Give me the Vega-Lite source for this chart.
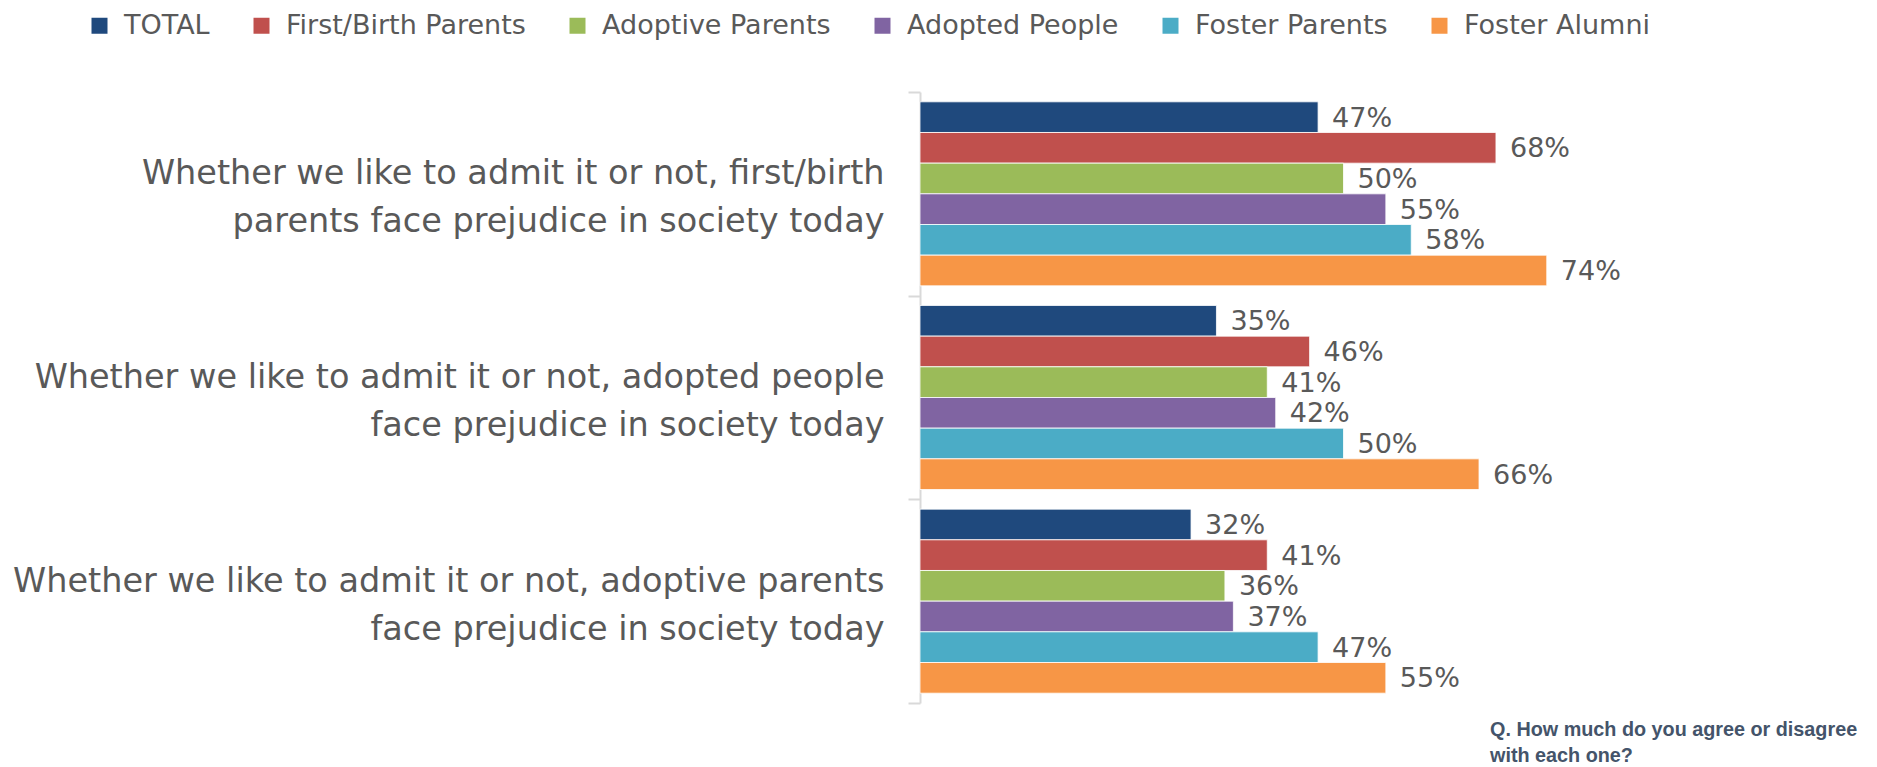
{
  "$schema": "https://vega.github.io/schema/vega-lite/v6.json",
  "width": 847,
  "height": 611,
  "autosize": {"type": "none"},
  "padding": {"left": 920, "top": 92, "right": 110, "bottom": 64},
  "background": "white",
  "config": {"view": {"stroke": null}, "font": "DejaVu Sans"},
  "title": {
    "text": ["Q. How much do you agree or disagree", "with each one?"],
    "orient": "bottom",
    "anchor": "start",
    "frame": "group",
    "dx": 570,
    "offset": 16,
    "font": "Liberation Sans",
    "fontSize": 19.8,
    "fontWeight": "bold",
    "color": "#44546a",
    "lineHeight": 26,
    "baseline": "top"
  },
  "data": {
    "values": [
      {"statement": "Whether we like to admit it or not, first/birth|parents face prejudice in society today", "group": "TOTAL", "value": 0.47},
      {"statement": "Whether we like to admit it or not, first/birth|parents face prejudice in society today", "group": "First/Birth Parents", "value": 0.68},
      {"statement": "Whether we like to admit it or not, first/birth|parents face prejudice in society today", "group": "Adoptive Parents", "value": 0.50},
      {"statement": "Whether we like to admit it or not, first/birth|parents face prejudice in society today", "group": "Adopted People", "value": 0.55},
      {"statement": "Whether we like to admit it or not, first/birth|parents face prejudice in society today", "group": "Foster Parents", "value": 0.58},
      {"statement": "Whether we like to admit it or not, first/birth|parents face prejudice in society today", "group": "Foster Alumni", "value": 0.74},
      {"statement": "Whether we like to admit it or not, adopted people|face prejudice in society today", "group": "TOTAL", "value": 0.35},
      {"statement": "Whether we like to admit it or not, adopted people|face prejudice in society today", "group": "First/Birth Parents", "value": 0.46},
      {"statement": "Whether we like to admit it or not, adopted people|face prejudice in society today", "group": "Adoptive Parents", "value": 0.41},
      {"statement": "Whether we like to admit it or not, adopted people|face prejudice in society today", "group": "Adopted People", "value": 0.42},
      {"statement": "Whether we like to admit it or not, adopted people|face prejudice in society today", "group": "Foster Parents", "value": 0.50},
      {"statement": "Whether we like to admit it or not, adopted people|face prejudice in society today", "group": "Foster Alumni", "value": 0.66},
      {"statement": "Whether we like to admit it or not, adoptive parents|face prejudice in society today", "group": "TOTAL", "value": 0.32},
      {"statement": "Whether we like to admit it or not, adoptive parents|face prejudice in society today", "group": "First/Birth Parents", "value": 0.41},
      {"statement": "Whether we like to admit it or not, adoptive parents|face prejudice in society today", "group": "Adoptive Parents", "value": 0.36},
      {"statement": "Whether we like to admit it or not, adoptive parents|face prejudice in society today", "group": "Adopted People", "value": 0.37},
      {"statement": "Whether we like to admit it or not, adoptive parents|face prejudice in society today", "group": "Foster Parents", "value": 0.47},
      {"statement": "Whether we like to admit it or not, adoptive parents|face prejudice in society today", "group": "Foster Alumni", "value": 0.55}
    ]
  },
  "encoding": {
    "y": {
      "field": "statement",
      "type": "nominal",
      "sort": null,
      "scale": {"paddingInner": 0, "paddingOuter": 0},
      "axis": {
        "title": null,
        "labelExpr": "split(datum.label, '|')",
        "labelFont": "DejaVu Sans",
        "labelFontSize": 33.5,
        "labelColor": "#595959",
        "labelLineHeight": 48,
        "labelAlign": "right",
        "labelBaseline": "middle",
        "labelOffset": -20,
        "labelPadding": 24,
        "labelLimit": 900,
        "domainColor": "#d9d9d9",
        "domainWidth": 2,
        "tickColor": "#d9d9d9",
        "tickWidth": 2,
        "tickSize": 12,
        "tickBand": "extent",
        "grid": false
      }
    },
    "yOffset": {
      "field": "group",
      "type": "nominal",
      "sort": ["TOTAL", "First/Birth Parents", "Adoptive Parents", "Adopted People", "Foster Parents", "Foster Alumni"],
      "scale": {"paddingInner": 0, "paddingOuter": 0.32}
    },
    "x": {
      "field": "value",
      "type": "quantitative",
      "scale": {"domain": [0, 1]},
      "axis": null
    }
  },
  "layer": [
    {
      "mark": {"type": "bar", "stroke": "white", "strokeWidth": 0.8},
      "encoding": {
        "color": {
          "field": "group",
          "type": "nominal",
          "scale": {
            "domain": ["TOTAL", "First/Birth Parents", "Adoptive Parents", "Adopted People", "Foster Parents", "Foster Alumni"],
            "range": ["#1f497d", "#c0504d", "#9bbb59", "#8064a2", "#4bacc6", "#f79646"]
          },
          "legend": {
            "title": null,
            "orient": "none",
            "legendX": -834,
            "legendY": -80,
            "direction": "horizontal",
            "symbolType": "square",
            "symbolSize": 256,
            "symbolStrokeWidth": 0,
            "labelFont": "DejaVu Sans",
            "labelFontSize": 27,
            "labelColor": "#595959",
            "labelOffset": 11,
            "labelLimit": 400,
            "columnPadding": 38,
            "padding": 0
          }
        }
      }
    },
    {
      "mark": {"type": "text", "align": "left", "baseline": "middle", "dx": 14, "dy": 1.5, "font": "DejaVu Sans", "fontSize": 27, "color": "#595959"},
      "encoding": {
        "text": {"field": "value", "type": "quantitative", "format": ".0%"}
      }
    }
  ]
}
